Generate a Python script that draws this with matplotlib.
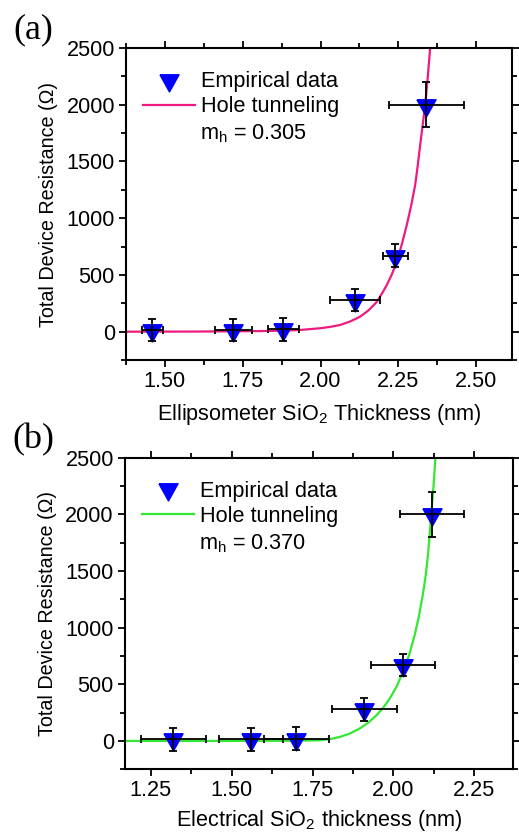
import matplotlib
matplotlib.use("Agg")
import matplotlib.pyplot as plt
from matplotlib.ticker import MultipleLocator
from matplotlib.lines import Line2D

plt.rcParams["font.family"] = ["Liberation Sans", "DejaVu Sans"]
plt.rcParams["mathtext.fontset"] = "custom"
plt.rcParams["mathtext.rm"] = "Liberation Sans"
plt.rcParams["mathtext.it"] = "Liberation Sans:italic"

# ── data ──────────────────────────────────────────────────────────────────────
resistance = [15, 15, 20, 280, 670, 2000]
res_err = [100, 100, 100, 100, 100, 200]

thick_ell = [1.46, 1.72, 1.88, 2.11, 2.24, 2.34]
xerr_ell = [0.035, 0.06, 0.05, 0.08, 0.04, 0.12]

thick_elec = [1.32, 1.56, 1.70, 1.91, 2.03, 2.12]
xerr_elec = [0.10, 0.10, 0.10, 0.10, 0.10, 0.10]

# hole tunneling fit curves
fit_a_x = [1.375, 1.60, 1.80, 1.88, 1.934, 1.998, 2.03, 2.063, 2.095, 2.127,
           2.155, 2.181, 2.197, 2.213, 2.229, 2.245, 2.261, 2.277, 2.291,
           2.304, 2.312, 2.320, 2.328, 2.336, 2.344, 2.352]
fit_a_y = [0, 1, 5, 9, 15, 30, 42, 59, 90, 132, 190, 264, 335, 412, 505, 617,
           770, 940, 1110, 1293, 1460, 1645, 1820, 1998, 2230, 2497]

fit_b_x = [1.17, 1.50, 1.70, 1.773, 1.805, 1.834, 1.866, 1.896, 1.923, 1.948,
           1.969, 1.989, 2.010, 2.030, 2.049, 2.066, 2.079, 2.091, 2.100,
           2.107, 2.112, 2.117, 2.124, 2.130]
fit_b_y = [0, 0, 2, 6, 17, 35, 66, 110, 163, 227, 295, 375, 480, 610, 760, 934,
           1100, 1287, 1460, 1640, 1810, 1994, 2240, 2500]

C_PINK = "#EE1A80"
C_GREEN = "#33E833"
C_BLUE = "#0000FF"

TRI = [(-0.833, 0.5), (0.833, 0.5), (0.0, -1.0), (-0.833, 0.5)]
FS = 15.6

fig = plt.figure(figsize=(5.19, 8.34), dpi=100)
fig.patch.set_facecolor("white")

ax_a = fig.add_axes([0.2428, 0.5683, 0.7437, 0.3741])
ax_b = fig.add_axes([0.2408, 0.0776, 0.7476, 0.3736])


def panel(ax, tx, txerr, fx, fy, color, mh, xlim, xlabel, xpad, letter,
          letter_y):
    ax.plot(fx, fy, color=color, lw=1.6, zorder=2)
    ax.plot(tx, resistance, linestyle="none", marker=TRI, ms=16.5,
            mfc=C_BLUE, mec=C_BLUE, zorder=3)
    ax.errorbar(tx, resistance, xerr=txerr, yerr=res_err, fmt="none",
                ecolor="black", elinewidth=1.3, capsize=3, capthick=1.3,
                zorder=4)
    ax.set_xlim(*xlim)
    ax.set_ylim(-250, 2500)
    ax.xaxis.set_major_locator(MultipleLocator(0.25))
    ax.xaxis.set_minor_locator(MultipleLocator(0.125))
    ax.yaxis.set_major_locator(MultipleLocator(500))
    ax.yaxis.set_minor_locator(MultipleLocator(250))
    ax.xaxis.set_major_formatter(plt.FormatStrFormatter("%.2f"))
    ax.tick_params(which="both", direction="out", top=True, right=True,
                   labeltop=False, labelright=False, width=1.3,
                   labelsize=FS, pad=3)
    ax.tick_params(which="major", length=5)
    ax.tick_params(which="minor", length=3.5)
    for s in ax.spines.values():
        s.set_linewidth(1.5)
    ax.set_xlabel(xlabel, fontsize=FS, labelpad=xpad)
    ax.set_ylabel("Total Device Resistance (Ω)", fontsize=14.2, labelpad=6)

    handles = [Line2D([], [], linestyle="none", marker=TRI, ms=16.5,
                      mfc=C_BLUE, mec=C_BLUE),
               Line2D([], [], color=color, lw=1.6)]
    ax.legend(handles, ["Empirical data", "Hole tunneling"],
              loc="upper left", bbox_to_anchor=(0.045, 0.925),
              frameon=False, fontsize=FS, handlelength=2.4,
              handletextpad=0.25, labelspacing=0.18, borderpad=0,
              borderaxespad=0)
    ax.text(0.192, 0.725, r"m$_\mathregular{h}$ = " + mh,
            transform=ax.transAxes, fontsize=FS, ha="left", va="center")
    fig.text(0.064, letter_y, letter, fontsize=26, family="Liberation Serif",
             ha="center", va="center")


panel(ax_a, thick_ell, xerr_ell, fit_a_x, fit_a_y, C_PINK, "0.305",
      (1.375, 2.615), r"Ellipsometer SiO$_\mathregular{2}$ Thickness (nm)", 7,
      "(a)", 1 - 30 / 834)
panel(ax_b, thick_elec, xerr_elec, fit_b_x, fit_b_y, C_GREEN, "0.370",
      (1.17, 2.37), r"Electrical SiO$_\mathregular{2}$ thickness (nm)", 4.5,
      "(b)", 1 - 440 / 834)

fig.savefig("out.png", dpi=100, facecolor="white")
